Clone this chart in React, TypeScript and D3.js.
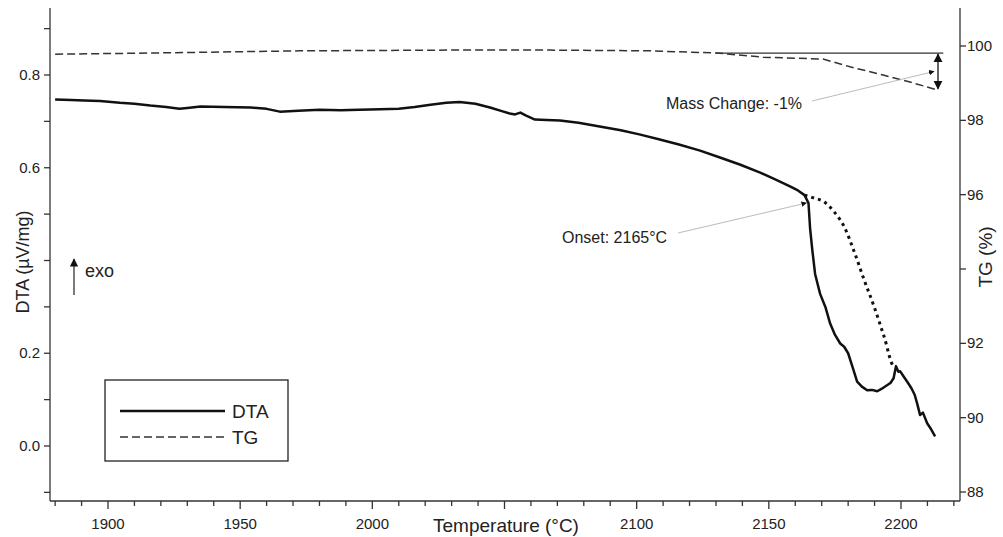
import React from 'react';
import * as d3 from 'd3';

// DTA signal (µV/mg) vs temperature (°C)
const dtaT = [1880, 1886, 1891, 1897, 1904.5, 1910, 1916, 1922, 1927, 1930, 1935, 1944, 1954, 1960, 1965, 1972, 1980, 1988, 1995, 2003, 2010, 2016, 2022, 2028, 2033, 2039, 2044.5, 2049, 2052, 2054, 2056, 2058, 2061.5, 2066, 2071, 2078, 2086, 2094, 2101, 2108, 2116, 2124, 2131.5, 2139, 2146.5, 2152, 2158, 2161, 2163.5, 2165, 2165.6, 2166.4, 2167.5, 2169.4, 2171.5, 2173.2, 2175, 2177, 2178.5, 2180, 2181.8, 2183.4, 2185.2, 2187.2, 2189, 2191, 2192.6, 2194.7, 2196, 2197.2, 2198.1, 2199, 2199.7, 2201, 2202.3, 2204, 2205.2, 2206.1, 2207.2, 2208.3, 2209.9, 2211.4, 2212.9];
const dtaV = [0.747, 0.746, 0.745, 0.744, 0.740, 0.738, 0.734, 0.731, 0.727, 0.729, 0.732, 0.731, 0.730, 0.727, 0.721, 0.723, 0.725, 0.724, 0.725, 0.726, 0.727, 0.731, 0.736, 0.740, 0.742, 0.738, 0.730, 0.722, 0.717, 0.715, 0.719, 0.713, 0.704, 0.703, 0.702, 0.697, 0.689, 0.681, 0.672, 0.662, 0.650, 0.637, 0.622, 0.607, 0.590, 0.576, 0.560, 0.551, 0.541, 0.524, 0.470, 0.425, 0.371, 0.328, 0.298, 0.264, 0.240, 0.221, 0.214, 0.200, 0.168, 0.139, 0.128, 0.120, 0.121, 0.118, 0.123, 0.131, 0.136, 0.146, 0.172, 0.160, 0.161, 0.150, 0.139, 0.124, 0.110, 0.092, 0.067, 0.072, 0.049, 0.036, 0.021];

// TG (%) vs temperature
const tgT = [1880, 1916, 1972.6, 2029.4, 2067.2, 2105, 2130.4, 2147.8, 2170.5, 2180.7, 2193.2, 2203.4, 2213.7];
const tgV = [99.78, 99.81, 99.87, 99.89, 99.89, 99.87, 99.81, 99.70, 99.65, 99.44, 99.22, 99.03, 98.82];

// dotted peak baseline (DTA units)
const baseT = [2163.5, 2167, 2171, 2174.7, 2178.5, 2182.3, 2186, 2189.8, 2193.6, 2197.4, 2198.1];
const baseV = [0.541, 0.535, 0.526, 0.505, 0.473, 0.419, 0.359, 0.301, 0.236, 0.172, 0.172];

const xMajor = [1900, 1950, 2000, 2100, 2150, 2200];
const xMinor = d3.range(1880, 2221, 10);
const yLeftTicks = d3.range(-1, 10).map(d => d / 10);
const yLeftLabels = ['0.0', '0.2', '0.6', '0.8'];
const yRightTicks = [88, 90, 92, 94, 96, 98, 100];
const yRightLabels = ['88', '90', '92', '96', '98', '100'];

const onsetT = 2165;
const onsetLabel = 'Onset: 2165°C';
const massLabel = 'Mass Change: -1%';
const tgStart = 99.81;
const tgEnd = 98.82;

export default function App() {
  const W = 1003, H = 537;
  const left = 50, right = 960, top = 8, bottom = 501;
  const x = d3.scaleLinear().domain([1900, 2200]).range([108, 901]);
  const yL = d3.scaleLinear().domain([0, 0.8]).range([446, 75]);
  const yR = d3.scaleLinear().domain([88, 100]).range([492, 46]);

  const dtaLine = d3.line<number>().x((d, i) => x(dtaT[i])).y(d => yL(d));
  const tgLine = d3.line<number>().x((d, i) => x(tgT[i])).y(d => yR(d));
  const baseLine = d3.line<number>().x((d, i) => x(baseT[i])).y(d => yL(d)).curve(d3.curveMonotoneX);

  const font = 'Arial, "Liberation Sans", sans-serif';
  const onsetIdx = dtaT.indexOf(onsetT);
  const ox = x(onsetT), oy = yL(dtaV[onsetIdx]);
  const mx = x(2214);

  return (
    <svg width={W} height={H} style={{ position: 'absolute', left: 0, top: 0, background: '#fff' }} fontFamily={font}>
      <defs>
        <marker id="ah" viewBox="0 0 10 10" refX="9" refY="5" markerWidth="7" markerHeight="7" orient="auto-start-reverse">
          <path d="M0,0 L10,5 L0,10 z" fill="#111" />
        </marker>
      </defs>

      {/* axes */}
      <g stroke="#333" strokeWidth={1.3} fill="none">
        <line x1={left} x2={left} y1={top} y2={bottom} />
        <line x1={right} x2={right} y1={top} y2={bottom} />
        <line x1={left} x2={right} y1={bottom} y2={bottom} />
        {xMinor.map(t => (
          <line key={'xm' + t} x1={x(t)} x2={x(t)} y1={bottom} y2={bottom + (t % 50 === 0 ? 8 : 5)} />
        ))}
        {yLeftTicks.map(v => (
          <line key={'yl' + v} x1={left} x2={left - 6} y1={yL(v)} y2={yL(v)} />
        ))}
        {yRightTicks.map(v => (
          <line key={'yr' + v} x1={right} x2={right + 6} y1={yR(v)} y2={yR(v)} />
        ))}
      </g>
      <g fontSize={15} fill="#222">
        {xMajor.map(t => (
          <text key={t} x={x(t)} y={529} textAnchor="middle">{t}</text>
        ))}
        {yLeftLabels.map(l => (
          <text key={l} x={40} y={yL(+l) + 5} textAnchor="end">{l}</text>
        ))}
        {yRightLabels.map(l => (
          <text key={l} x={967} y={yR(+l) + 5}>{l}</text>
        ))}
      </g>
      <text x={506} y={532} fontSize={19} textAnchor="middle" fill="#222">Temperature (°C)</text>
      <text transform="translate(29,262) rotate(-90)" fontSize={18} textAnchor="middle" fill="#222">DTA (µV/mg)</text>
      <text transform="translate(992,257) rotate(-90)" fontSize={19} textAnchor="middle" fill="#222">TG (%)</text>

      {/* data */}
      <path d={tgLine(tgV) || ''} fill="none" stroke="#333" strokeWidth={1.5} strokeDasharray="8,4" />
      <path d={baseLine(baseV) || ''} fill="none" stroke="#111" strokeWidth={3} strokeDasharray="3,4" />
      <path d={dtaLine(dtaV) || ''} fill="none" stroke="#111" strokeWidth={2.5} strokeLinejoin="round" />

      {/* mass change */}
      <line x1={x(2130)} x2={x(2216)} y1={yR(tgStart)} y2={yR(tgStart)} stroke="#333" strokeWidth={1.3} />
      <line x1={mx} x2={mx} y1={yR(tgStart) + 1} y2={yR(tgEnd) - 1} stroke="#111" strokeWidth={1.3} markerStart="url(#ah)" markerEnd="url(#ah)" />
      <line x1={812} y1={101} x2={mx - 4} y2={yR((tgStart + tgEnd) / 2)} stroke="#aaa" strokeWidth={0.8} markerEnd="url(#ah)" />
      <text x={666} y={109} fontSize={16} fill="#222">{massLabel}</text>

      {/* onset */}
      <line x1={678} y1={233} x2={ox - 2} y2={oy} stroke="#aaa" strokeWidth={0.8} markerEnd="url(#ah)" />
      <text x={562} y={243} fontSize={16} fill="#222">{onsetLabel}</text>

      {/* exo */}
      <line x1={74} x2={74} y1={295} y2={259} stroke="#222" strokeWidth={1.2} markerEnd="url(#ah)" />
      <text x={85} y={277} fontSize={18} fill="#222">exo</text>

      {/* legend */}
      <rect x={105} y={380} width={183} height={81} fill="#fff" stroke="#222" strokeWidth={1.3} />
      <line x1={120} x2={225} y1={411} y2={411} stroke="#111" strokeWidth={2.5} />
      <text x={232} y={418} fontSize={19} fill="#222">DTA</text>
      <line x1={120} x2={225} y1={437} y2={437} stroke="#333" strokeWidth={1.5} strokeDasharray="8,4" />
      <text x={232} y={444} fontSize={19} fill="#222">TG</text>
    </svg>
  );
}
